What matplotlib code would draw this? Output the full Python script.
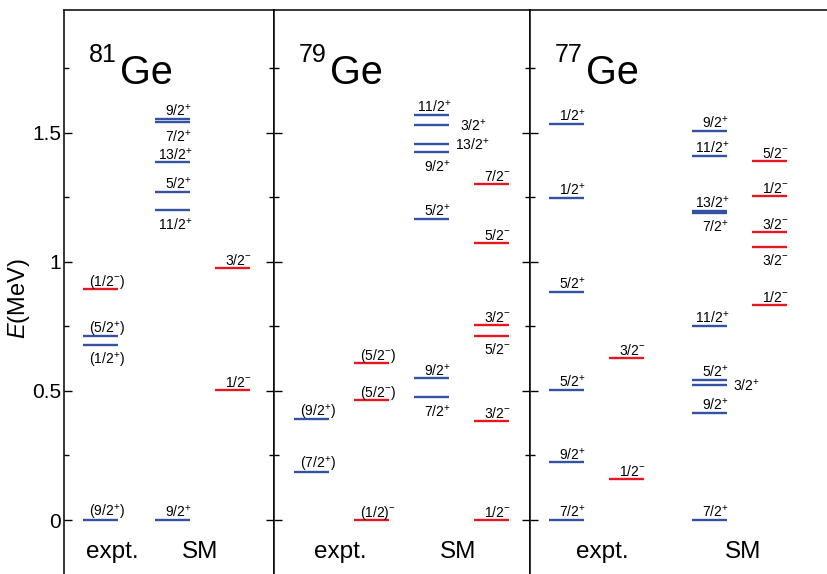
import matplotlib
matplotlib.use('Agg')
import matplotlib.pyplot as plt
from matplotlib.ticker import MultipleLocator, FuncFormatter

plt.rcParams['font.family'] = 'Liberation Sans'
plt.rcParams['mathtext.fontset'] = 'custom'
plt.rcParams['mathtext.rm'] = 'Liberation Sans'
plt.rcParams['mathtext.it'] = 'Liberation Sans:italic'

# level energies (MeV) and spin-parity labels
ge81_expt_E = [0.0, 0.678, 0.711, 0.895]
ge81_expt_J = ['(9/2+)', '(1/2+)', '(5/2+)', '(1/2-)']
ge81_sm_E = [0.0, 1.199, 1.270, 1.386, 1.540, 1.554, 0.504, 0.975]
ge81_sm_J = ['9/2+', '11/2+', '5/2+', '13/2+', '7/2+', '9/2+', '1/2-', '3/2-']

ge79_expt_E = [0.186, 0.390, 0.0, 0.465, 0.607]
ge79_expt_J = ['(7/2+)', '(9/2+)', '(1/2)-', '(5/2-)', '(5/2-)']
ge79_sm_E = [0.475, 0.549, 1.167, 1.424, 1.457, 1.531, 1.570,
             0.0, 0.385, 0.711, 0.755, 1.072, 1.302]
ge79_sm_J = ['7/2+', '9/2+', '5/2+', '9/2+', '13/2+', '3/2+', '11/2+',
             '1/2-', '3/2-', '5/2-', '3/2-', '5/2-', '7/2-']

ge77_expt_E = [0.0, 0.224, 0.504, 0.884, 1.249, 1.535, 0.159, 0.629]
ge77_expt_J = ['7/2+', '9/2+', '5/2+', '5/2+', '1/2+', '1/2+', '1/2-', '3/2-']
ge77_sm_E = [0.0, 0.416, 0.523, 0.543, 0.752, 1.189, 1.198, 1.410, 1.508,
             0.831, 1.059, 1.114, 1.253, 1.390]
ge77_sm_J = ['7/2+', '9/2+', '3/2+', '5/2+', '11/2+', '7/2+', '13/2+', '11/2+', '9/2+',
             '1/2-', '3/2-', '3/2-', '1/2-', '5/2-']

nuclei = ['81', '79', '77']

# label placement: a = above, b = below, r = right of the line
ge81_expt_pos = ['a', 'b', 'a', 'a']
ge81_sm_pos = ['a', 'b', 'a', 'a', 'b', 'a', 'a', 'a']
ge79_expt_pos = ['a'] * 5
ge79_sm_pos = ['b', 'a', 'a', 'b', 'r', 'r2', 'a', 'a', 'a', 'b', 'a', 'a', 'a']
ge77_expt_pos = ['a'] * 8
ge77_sm_pos = ['a', 'a', 'r', 'a', 'a', 'b', 'a', 'a', 'a', 'a', 'b', 'a', 'a', 'a']

BLUE = '#3452a4'
RED = '#e8161f'
W, H = 827, 574
PX_PER_MEV = 258.2
Y0 = 520          # pixel row of E = 0
TOP, BOT = 10, 600

# panel layout in pixels: left, width, column centres, caption centres
panels = [
    (64, 210, {'expt+': 36.5, 'expt-': 36.5, 'sm+': 108.5, 'sm-': 168.5}, (48, 136)),
    (274, 256, {'expt+': 37.5, 'expt-': 97.5, 'sm+': 157.5, 'sm-': 217}, (66, 184.5)),
    (530, 308, {'expt+': 36, 'expt-': 96, 'sm+': 179.5, 'sm-': 239.5}, (72, 213.5)),
]
level_sets = [
    [(ge81_expt_E, ge81_expt_J, ge81_expt_pos, 'expt'), (ge81_sm_E, ge81_sm_J, ge81_sm_pos, 'sm')],
    [(ge79_expt_E, ge79_expt_J, ge79_expt_pos, 'expt'), (ge79_sm_E, ge79_sm_J, ge79_sm_pos, 'sm')],
    [(ge77_expt_E, ge77_expt_J, ge77_expt_pos, 'expt'), (ge77_sm_E, ge77_sm_J, ge77_sm_pos, 'sm')],
]
HALF = 17.5
LFS = 10


def to_tex(j):
    # '(9/2+)' -> '(9/2$^{+}$)'
    for s in '+-':
        if s in j:
            return j.replace(s, '$^{' + s + '}$')
    return j


def parity(j):
    return '+' if '+' in j else '-'


fig = plt.figure(figsize=(W / 100, H / 100), dpi=100)
ylo = (Y0 - BOT) / PX_PER_MEV
yhi = (Y0 - TOP) / PX_PER_MEV

for i, ((left, width, cols, lab_x), sets) in enumerate(zip(panels, level_sets)):
    ax = fig.add_axes([left / W, 1 - BOT / H, width / W, (BOT - TOP) / H])
    ax.set_xlim(0, width)
    ax.set_ylim(ylo, yhi)
    ax.set_xticks([])
    ax.yaxis.set_major_locator(MultipleLocator(0.5))
    ax.yaxis.set_minor_locator(MultipleLocator(0.25))
    ax.tick_params(which='major', axis='y', direction='in', length=6, width=1,
                   left=True, right=True, labelsize=15, pad=2)
    ax.tick_params(which='minor', axis='y', direction='in', length=3.5, width=1,
                   left=True, right=True)
    if i == 0:
        ax.yaxis.set_major_formatter(FuncFormatter(lambda v, _: f'{v:g}'))
        ax.set_ylabel('$E$(MeV)', fontsize=17)
        ax.yaxis.set_label_coords((32 - 64) / width, (BOT - 299) / (BOT - TOP))
    else:
        ax.tick_params(axis='y', labelleft=False)
    for sp in ax.spines.values():
        sp.set_linewidth(1.1)

    for E, J, pos, kind in sets:
        for e, j, p in zip(E, J, pos):
            par = parity(j)
            xc = cols[kind + par]
            color = BLUE if par == '+' else RED
            ax.hlines(e, xc - HALF, xc + HALF, color=color, lw=1.7)
            if p in ('r', 'r2'):
                dx = 6 if p == 'r' else 11
                ax.annotate(to_tex(j), (xc + HALF, e), xytext=(dx, -1),
                            textcoords='offset pixels', ha='left', va='center',
                            fontsize=LFS)
            else:
                dx = 7 if j.startswith('(') else 2
                if p == 'a':
                    ax.annotate(to_tex(j), (xc + HALF, e), xytext=(dx, 3),
                                textcoords='offset pixels', ha='right', va='baseline',
                                fontsize=LFS)
                else:
                    ax.annotate(to_tex(j), (xc + HALF, e), xytext=(dx, -6),
                                textcoords='offset pixels', ha='right', va='top',
                                fontsize=LFS)

    # nucleus name
    ax.text(25, (Y0 - 62) / PX_PER_MEV, nuclei[i], fontsize=18, ha='left', va='baseline')
    ax.text(56, (Y0 - 84) / PX_PER_MEV, 'Ge', fontsize=28.5, ha='left', va='baseline')

    # column captions
    ax.text(lab_x[0], (Y0 - 558) / PX_PER_MEV, 'expt.', fontsize=17.5, ha='center', va='baseline')
    ax.text(lab_x[1], (Y0 - 558) / PX_PER_MEV, 'SM', fontsize=17.5, ha='center', va='baseline')

fig.savefig('out.png', dpi=100)
